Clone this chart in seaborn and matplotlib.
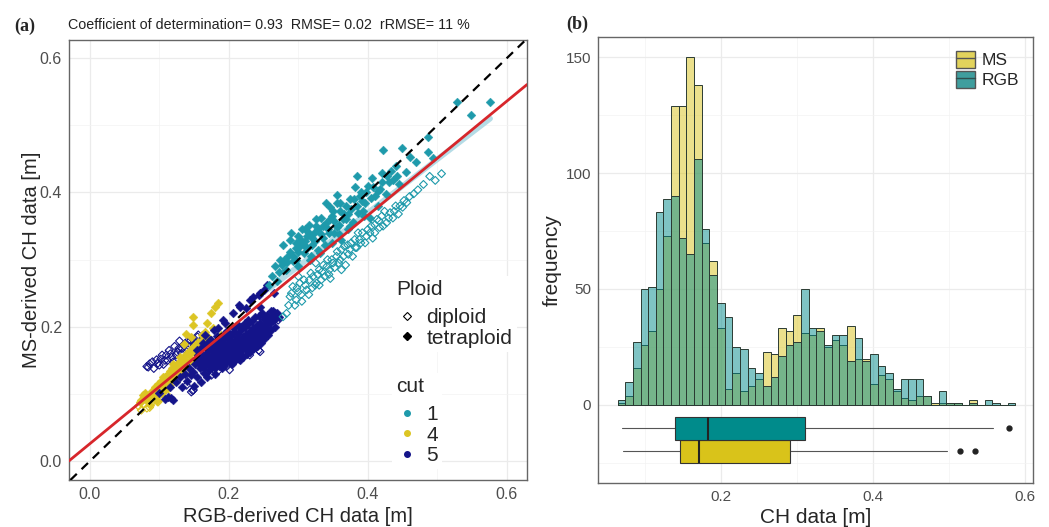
import numpy as np
import pandas as pd
import matplotlib
matplotlib.use("Agg")
import matplotlib.pyplot as plt
import seaborn as sns
from matplotlib.lines import Line2D
from matplotlib.patches import Patch
from matplotlib.legend_handler import HandlerTuple
from matplotlib.ticker import FixedLocator

# ---------------- data: panel (a) ----------------
c1_tetra_x = [0.258,0.262,0.266,0.270,0.274,0.278,0.282,0.285,0.288,0.290,0.293,0.296,0.297,0.300,0.302,0.305,0.308,0.310,0.312,0.315,0.317,0.320,0.322,0.326,0.328,0.331,0.333,0.336,0.340,0.342,0.345,0.348,0.350,0.352,0.355,0.358,0.360,0.362,0.365,0.369,0.372,0.375,0.378,0.381,0.384,0.386,0.390,0.393,0.396,0.400,0.403,0.406,0.410,0.414,0.418,0.421,0.422,0.426,0.430,0.436,0.440,0.445,0.449,0.455,0.461,0.470,0.486,0.486,0.494,0.528,0.548,0.576,
              0.272,0.276,0.280,0.284,0.288,0.292,0.296,0.300,0.304,0.308,0.312,0.316,0.320,0.324,0.328,0.332,0.336,0.340,0.344,0.348,0.352,0.356,0.360,0.364,0.368,0.372,0.376,0.380,0.384,0.388,0.392,0.398,0.404,0.408,0.414,0.420,0.428,0.434,0.442,0.310,0.325,0.345,0.355,0.300,0.318,0.338,0.358,0.375,0.395]
c1_tetra_y = [0.262,0.275,0.290,0.268,0.300,0.322,0.285,0.305,0.330,0.339,0.298,0.318,0.300,0.335,0.320,0.345,0.310,0.328,0.335,0.352,0.300,0.322,0.340,0.350,0.315,0.310,0.362,0.332,0.384,0.345,0.360,0.325,0.372,0.340,0.397,0.352,0.385,0.330,0.368,0.360,0.345,0.390,0.356,0.408,0.425,0.370,0.400,0.372,0.385,0.410,0.362,0.422,0.395,0.380,0.405,0.429,0.463,0.398,0.415,0.419,0.440,0.412,0.466,0.430,0.453,0.445,0.461,0.483,0.451,0.535,0.515,0.535,
              0.282,0.292,0.300,0.296,0.312,0.305,0.325,0.312,0.330,0.322,0.318,0.340,0.332,0.328,0.345,0.338,0.350,0.355,0.340,0.365,0.358,0.348,0.372,0.360,0.380,0.368,0.375,0.390,0.380,0.395,0.388,0.400,0.392,0.408,0.402,0.415,0.425,0.432,0.425,0.345,0.360,0.378,0.385,0.290,0.305,0.322,0.338,0.350,0.365]
c1_dip_x = [0.278,0.283,0.288,0.292,0.295,0.297,0.300,0.302,0.305,0.308,0.312,0.315,0.318,0.321,0.324,0.326,0.330,0.333,0.336,0.341,0.344,0.345,0.348,0.352,0.355,0.358,0.362,0.365,0.368,0.371,0.374,0.378,0.381,0.384,0.388,0.392,0.396,0.400,0.403,0.407,0.410,0.413,0.417,0.420,0.424,0.427,0.432,0.436,0.440,0.446,0.452,0.460,0.466,0.472,0.480,0.489,0.497,0.506,
            0.286,0.290,0.298,0.304,0.310,0.316,0.320,0.328,0.334,0.338,0.342,0.350,0.356,0.360,0.366,0.372,0.376,0.382,0.386,0.390,0.398,0.405,0.410,0.416,0.422,0.430,0.438,0.444,0.450,0.456,0.330,0.346,0.362,0.300,0.325]
c1_dip_y = [0.215,0.220,0.245,0.260,0.232,0.240,0.252,0.265,0.238,0.270,0.255,0.248,0.280,0.275,0.262,0.265,0.285,0.270,0.292,0.290,0.278,0.285,0.300,0.288,0.305,0.295,0.315,0.305,0.292,0.322,0.315,0.305,0.330,0.318,0.330,0.340,0.325,0.345,0.340,0.332,0.352,0.360,0.348,0.365,0.372,0.355,0.370,0.362,0.380,0.380,0.388,0.394,0.398,0.404,0.412,0.424,0.418,0.428,
            0.232,0.250,0.258,0.248,0.262,0.270,0.258,0.278,0.282,0.275,0.300,0.295,0.312,0.300,0.320,0.308,0.325,0.318,0.340,0.325,0.335,0.350,0.340,0.358,0.350,0.362,0.372,0.368,0.378,0.385,0.262,0.272,0.285,0.275,0.295]
c4_tetra_x = [0.072,0.074,0.078,0.082,0.086,0.088,0.092,0.096,0.098,0.100,0.104,0.106,0.110,0.112,0.116,0.118,0.122,0.125,0.128,0.131,0.134,0.137,0.139,0.140,0.143,0.146,0.149,0.149,0.150,0.153,0.155,0.158,0.160,0.163,0.165,0.166,0.168,0.170,0.173,0.175,0.177,0.180,0.185,0.188,0.105,0.115,0.120,0.130,
              0.076,0.080,0.084,0.090,0.094,0.098,0.102,0.108,0.112,0.118,0.124,0.128,0.134,0.138,0.144,0.150,0.156,0.162,0.135,0.145]
c4_tetra_y = [0.088,0.091,0.095,0.090,0.084,0.100,0.098,0.089,0.105,0.110,0.102,0.115,0.108,0.120,0.118,0.128,0.125,0.135,0.130,0.142,0.138,0.150,0.190,0.145,0.158,0.150,0.203,0.215,0.162,0.170,0.158,0.175,0.168,0.180,0.193,0.172,0.205,0.185,0.178,0.220,0.198,0.230,0.235,0.188,0.125,0.135,0.145,0.155,
              0.098,0.102,0.096,0.105,0.110,0.115,0.120,0.125,0.130,0.138,0.142,0.148,0.152,0.160,0.165,0.172,0.178,0.188,0.175,0.185]
c4_dip_x = [0.074,0.078,0.082,0.085,0.090,0.095,0.100,0.105,0.110,0.120,0.130,0.140,0.070,0.076,0.086,0.092,0.098,0.104,0.115,0.125]
c4_dip_y = [0.076,0.085,0.079,0.092,0.088,0.095,0.098,0.105,0.100,0.118,0.128,0.135,0.082,0.090,0.080,0.092,0.088,0.095,0.110,0.120]
c5_tetra_x = [0.100,0.108,0.113,0.115,0.117,0.120,0.124,0.129,0.133,0.137,0.140,0.143,0.146,0.149,0.151,0.154,0.156,0.158,0.160,0.162,0.164,0.166,0.168,0.170,0.172,0.174,0.176,0.178,0.180,0.182,0.184,0.186,0.188,0.190,0.192,0.194,0.196,0.198,0.200,0.202,0.204,0.206,0.207,0.209,0.211,0.213,0.215,0.217,0.219,0.221,0.223,0.225,0.227,0.229,0.231,0.233,0.235,0.236,0.238,0.240,0.242,0.245,0.246,0.248,0.250,0.252,0.255,0.258,0.261,0.264,0.266,0.269,0.272,0.265,0.255,0.250,0.244,0.225,0.215,0.195,0.185,0.175,0.205,0.215,0.190,0.180,0.160,0.150,0.230,0.240,
              0.155,0.156,0.154,0.159,0.161,0.158,0.162,0.164,0.166,0.165,0.167,0.163,0.171,0.169,0.172,0.170,0.168,0.176,0.174,0.177,0.175,0.173,0.180,0.182,0.179,0.181,0.178,0.183,0.186,0.184,0.187,0.185,0.183,0.191,0.189,0.192,0.190,0.188,0.193,0.196,0.194,0.197,0.195,0.193,0.198,0.201,0.199,0.202,0.200,0.198,0.206,0.204,0.207,0.205,0.203,0.208,0.211,0.209,0.212,0.210,0.208,0.213,0.216,0.214,0.217,0.215,0.213,0.218,0.221,0.219,0.222,0.220,0.218,0.223,0.226,0.224,0.227,0.225,0.223,0.228,0.231,0.229,0.232,0.230,0.228,0.236,0.234,0.237,0.235,0.233,0.238,0.241,0.239,0.242,0.240,0.246,0.244,0.247,0.245,0.243,0.251,0.249,0.252,0.250,0.248,0.256,0.254,0.257,0.255,0.261,0.259,0.262,0.260,0.266,0.264,0.267,
              0.216,0.230,0.245,0.192,0.178,0.165]
c5_tetra_y = [0.101,0.092,0.096,0.111,0.094,0.091,0.118,0.126,0.110,0.130,0.120,0.138,0.128,0.133,0.145,0.125,0.150,0.138,0.155,0.142,0.132,0.148,0.126,0.158,0.145,0.152,0.140,0.162,0.150,0.145,0.158,0.168,0.152,0.160,0.148,0.165,0.155,0.172,0.160,0.150,0.168,0.221,0.175,0.162,0.170,0.158,0.178,0.166,0.172,0.182,0.168,0.176,0.186,0.172,0.180,0.190,0.245,0.178,0.188,0.195,0.182,0.230,0.192,0.200,0.188,0.198,0.205,0.195,0.208,0.223,0.212,0.221,0.215,0.250,0.262,0.255,0.248,0.228,0.232,0.205,0.198,0.180,0.145,0.152,0.138,0.130,0.118,0.112,0.165,0.172,
              0.148,0.158,0.166,0.145,0.152,0.162,0.170,0.140,0.150,0.158,0.168,0.176,0.136,0.146,0.154,0.165,0.174,0.142,0.150,0.160,0.170,0.181,0.138,0.147,0.156,0.166,0.176,0.186,0.144,0.152,0.162,0.172,0.180,0.141,0.150,0.158,0.168,0.178,0.190,0.146,0.156,0.164,0.174,0.184,0.194,0.150,0.160,0.170,0.180,0.190,0.147,0.157,0.166,0.176,0.186,0.198,0.152,0.163,0.172,0.182,0.192,0.202,0.150,0.160,0.170,0.180,0.190,0.200,0.155,0.165,0.175,0.185,0.196,0.206,0.160,0.170,0.180,0.190,0.200,0.210,0.163,0.174,0.184,0.194,0.204,0.168,0.178,0.188,0.198,0.208,0.215,0.172,0.182,0.192,0.202,0.176,0.186,0.196,0.206,0.216,0.182,0.192,0.202,0.212,0.220,0.188,0.198,0.208,0.218,0.195,0.205,0.215,0.224,0.200,0.210,0.220,
              0.230,0.240,0.250,0.210,0.196,0.188]
c5_dip_x = [0.082,0.084,0.090,0.096,0.100,0.104,0.108,0.110,0.114,0.118,0.122,0.126,0.129,0.133,0.137,0.141,0.145,0.150,0.155,0.139,0.148,0.149,0.197,0.206,0.216,0.225,0.240,0.243,0.245,0.254,0.271,0.185,0.175,0.230,0.200,0.210,
            0.086,0.092,0.098,0.102,0.106,0.112,0.116,0.120,0.124,0.128,0.132,0.135,0.140,0.144,0.148,0.152,0.156,0.187,0.201,0.168,0.146,0.218,0.235]
c5_dip_y = [0.141,0.140,0.148,0.151,0.143,0.158,0.150,0.158,0.165,0.155,0.171,0.162,0.179,0.168,0.175,0.166,0.180,0.172,0.185,0.113,0.105,0.106,0.141,0.151,0.156,0.168,0.184,0.165,0.163,0.210,0.210,0.135,0.128,0.158,0.195,0.188,
            0.145,0.138,0.146,0.152,0.144,0.150,0.160,0.148,0.158,0.168,0.160,0.172,0.178,0.170,0.182,0.176,0.188,0.141,0.136,0.131,0.103,0.175,0.195]

fit_intercept = 0.026
fit_slope = 0.85
stats_text = "Coefficient of determination= 0.93  RMSE= 0.02  rRMSE= 11 %"

# ---------------- data: panel (b) ----------------
bin_lo, bin_hi, n_bins = 0.0638, 0.5866, 52
ms_counts = [1,4,16,26,32,50,73,129,129,150,138,70,62,33,7,14,6,8,11,23,22,33,32,39,31,30,33,25,28,26,34,20,20,9,13,11,6,3,2,4,4,1,1,1,1,0,2,0,0,0,0,0]
rgb_counts = [2,10,27,50,51,83,89,90,72,65,106,76,56,44,38,25,24,16,14,8,12,21,26,27,50,33,32,26,30,30,19,29,19,22,17,14,7,11,11,11,4,0,6,1,1,0,1,0,2,1,0,1]
# box stats: whisker low, q1, median, q3, whisker high, outliers
rgb_box = dict(whislo=0.0693, q1=0.1386, med=0.1825, q3=0.3105, whishi=0.5575, fliers=[0.578])
ms_box = dict(whislo=0.0715, q1=0.1452, med=0.1711, q3=0.2908, whishi=0.497, fliers=[0.5145, 0.534])

col_cut = {"1": "#1E9AAB", "4": "#DCC523", "5": "#14148A"}
col_ms = "#D9C31A"
col_rgb = "#008B8B"

# ---------------- style ----------------
sns.set_style("white")
plt.rcParams['font.family'] = ['Liberation Sans', 'DejaVu Sans']

W, H = 1049, 527
fig = plt.figure(figsize=(W / 100, H / 100), dpi=100)
ax1 = fig.add_axes([69 / W, 1 - 480 / H, 458 / W, 440 / H])
ax2 = fig.add_axes([598 / W, 1 - 482.7 / H, 435 / W, 445.4 / H])


def style(ax, lsize):
    ax.set_axisbelow(True)
    ax.grid(which='major', color='#EBEBEB', lw=0.9, zorder=0)
    ax.grid(which='minor', color='#F3F3F3', lw=0.5, zorder=0)
    for s in ax.spines.values():
        s.set_visible(True)
        s.set_color('#666666')
        s.set_linewidth(1.0)
    ax.tick_params(which='major', length=3, width=0.8, color='#333333',
                   labelcolor='#4D4D4D', labelsize=lsize, pad=2)
    ax.tick_params(which='minor', length=0)


# ---------------- panel (a) ----------------
groups = [
    ("5", "diploid", c5_dip_x, c5_dip_y),
    ("4", "tetraploid", c4_tetra_x, c4_tetra_y),
    ("4", "diploid", c4_dip_x, c4_dip_y),
    ("5", "tetraploid", c5_tetra_x, c5_tetra_y),
    ("1", "diploid", c1_dip_x, c1_dip_y),
    ("1", "tetraploid", c1_tetra_x, c1_tetra_y),
]
frames = []
for cut, ploid, xs, ys in groups:
    frames.append(pd.DataFrame({"rgb": xs, "ms": ys, "cut": cut, "ploid": ploid}))
df = pd.concat(frames, ignore_index=True)

# light fit for cut 1
d1 = df[df.cut == "1"]
sns.regplot(data=d1, x="rgb", y="ms", scatter=False, ci=None, ax=ax1,
            line_kws=dict(color="#B5DCE6", lw=4, zorder=1))

for cut, ploid, xs, ys in groups:
    sub = df[(df.cut == cut) & (df.ploid == ploid)]
    if ploid == "tetraploid":
        sns.scatterplot(data=sub, x="rgb", y="ms", marker="D", s=20,
                        color=col_cut[cut], edgecolor=col_cut[cut], linewidth=0.3,
                        ax=ax1, zorder=2, legend=False)
    else:
        sns.scatterplot(data=sub, x="rgb", y="ms", marker="D", s=16,
                        color=col_cut[cut], facecolor="none", edgecolor=col_cut[cut],
                        linewidth=0.8, ax=ax1, zorder=2, legend=False)

ax1.axline((0, 0), slope=1, color="black", lw=1.6, ls=(0, (4, 3)), zorder=3)
ax1.axline((0, fit_intercept), slope=fit_slope, color="#D7262B", lw=2.0, zorder=4)

ax1.set_xlim(-0.030, 0.629)
ax1.set_ylim(-0.028, 0.627)
ax1.xaxis.set_major_locator(FixedLocator([0.0, 0.2, 0.4, 0.6]))
ax1.yaxis.set_major_locator(FixedLocator([0.0, 0.2, 0.4, 0.6]))
ax1.xaxis.set_minor_locator(FixedLocator([0.1, 0.3, 0.5]))
ax1.yaxis.set_minor_locator(FixedLocator([0.1, 0.3, 0.5]))
ax1.set_xticklabels(["0.0", "0.2", "0.4", "0.6"])
ax1.set_yticklabels(["0.0", "0.2", "0.4", "0.6"])
style(ax1, 11.5)
ax1.set_xlabel("RGB-derived CH data [m]", fontsize=14.5, labelpad=4)
ax1.set_ylabel("MS-derived CH data [m]", fontsize=14.5, labelpad=-1)

ploid_handles = [
    Line2D([], [], marker="D", ls="", mfc="none", mec="black", ms=4, mew=0.8, label="diploid"),
    Line2D([], [], marker="D", ls="", mfc="black", mec="black", ms=4, label="tetraploid"),
]
cut_handles = [Line2D([], [], marker="o", ls="", color=col_cut[c], ms=4, label=c) for c in ["1", "4", "5"]]
leg_kw = dict(loc="upper left", frameon=True, fontsize=15, title_fontsize=15, alignment="left",
              handlelength=1.0, handletextpad=0.45, labelspacing=0.07, borderpad=0.2,
              framealpha=1, facecolor="white", edgecolor="none")
leg1 = ax1.legend(handles=ploid_handles, title="Ploid", bbox_to_anchor=(0.683, 0.487), **leg_kw)
leg1._legend_box.sep = 6.5
ax1.add_artist(leg1)
leg2 = ax1.legend(handles=cut_handles, title="cut", bbox_to_anchor=(0.683, 0.267), **leg_kw)
leg2._legend_box.sep = 6.5

# ---------------- panel (b) ----------------
edges = np.linspace(bin_lo, bin_hi, n_bins + 1)
centers = (edges[:-1] + edges[1:]) / 2
hist_df = pd.DataFrame({"ch": centers, "ms": ms_counts, "rgb": rgb_counts})
sns.histplot(data=hist_df, x="ch", weights="ms", bins=n_bins, binrange=(bin_lo, bin_hi),
             color=col_ms, alpha=0.5, edgecolor="#2B3B33", linewidth=0.7, ax=ax2, zorder=2)
sns.histplot(data=hist_df, x="ch", weights="rgb", bins=n_bins, binrange=(bin_lo, bin_hi),
             color=col_rgb, alpha=0.5, edgecolor="#2B3B33", linewidth=0.7, ax=ax2, zorder=3)

bstats = [dict(ms_box, label="MS"), dict(rgb_box, label="RGB")]
bp = ax2.bxp(bstats, positions=[-20, -10], widths=10, vert=False, patch_artist=True,
             showcaps=False, manage_ticks=False,
             boxprops=dict(edgecolor="#333333", linewidth=0.8),
             whiskerprops=dict(color="#555555", linewidth=0.8),
             medianprops=dict(color="#222222", linewidth=1.5),
             flierprops=dict(marker="o", markerfacecolor="#222222", markeredgecolor="#222222", markersize=3.5))
bp["boxes"][0].set_facecolor(col_ms)
bp["boxes"][1].set_facecolor(col_rgb)
for b in bp["boxes"]:
    b.set_zorder(4)
for m in bp["medians"]:
    m.set_zorder(5)

ax2.set_xlim(0.038, 0.610)
ax2.set_ylim(-33.5, 158.5)
ax2.xaxis.set_major_locator(FixedLocator([0.2, 0.4, 0.6]))
ax2.xaxis.set_minor_locator(FixedLocator([0.1, 0.3, 0.5]))
ax2.yaxis.set_major_locator(FixedLocator([0, 50, 100, 150]))
ax2.yaxis.set_minor_locator(FixedLocator([-25, 25, 75, 125]))
ax2.set_xticklabels(["0.2", "0.4", "0.6"])
ax2.set_yticklabels(["0", "50", "100", "150"])
style(ax2, 11)
ax2.set_xlabel("CH data [m]", fontsize=15, labelpad=3)
ax2.set_ylabel("frequency", fontsize=15, labelpad=3)

box_handles = [
    (Patch(facecolor="#E2D35C", edgecolor="#555555"), Line2D([], [], color="#555555", lw=1.0)),
    (Patch(facecolor="#3F9E9E", edgecolor="#555555"), Line2D([], [], color="#2F4F4F", lw=1.0)),
]
ax2.legend(handles=box_handles, labels=["MS", "RGB"], loc="upper right", bbox_to_anchor=(1.0, 1.0),
           frameon=False, fontsize=12.5, handlelength=1.1, handleheight=1.1, handletextpad=0.4,
           labelspacing=0.15, borderpad=0.3, handler_map={tuple: HandlerTuple(ndivide=1, pad=0)})

# ---------------- titles ----------------
fig.text(14 / W, 1 - 26 / H, "(a)", fontsize=13, fontweight="bold",
         family=["Liberation Serif", "DejaVu Serif"], va="center")
fig.text(68 / W, 1 - 25 / H, stats_text, fontsize=10.25, va="center", color="#222222")
fig.text(566 / W, 1 - 24 / H, "(b)", fontsize=13, fontweight="bold",
         family=["Liberation Serif", "DejaVu Serif"], va="center")

fig.savefig("out.png", dpi=100)
